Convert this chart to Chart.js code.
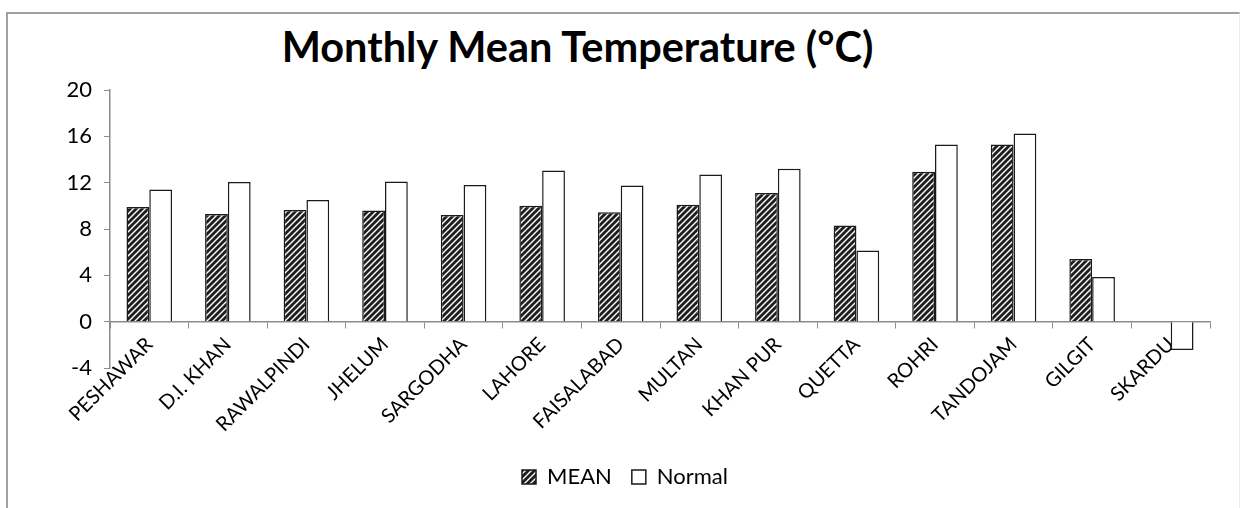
<!DOCTYPE html>
<html>
<head>
<meta charset="utf-8">
<script src="https://cdn.jsdelivr.net/npm/chart.js@4.4.1/dist/chart.umd.min.js"></script>
<style>
  html, body { margin: 0; padding: 0; background: #fff; }
  #frame {
    position: absolute; left: 6px; top: 12px; width: 1234px; height: 510px;
    border-top: 2px solid #a0a0a0; border-left: 2px solid #a0a0a0; border-right: 1px solid #ececec;
    box-sizing: border-box;
  }
  #titulo {
    position: absolute; left: 0; top: 21px; width: 1155px; text-align: center;
    font: bold 41.5px Lato, "Open Sans", sans-serif; color: #000;
  }
  #wrap { position: absolute; left: 0; top: 0; width: 1246px; height: 508px; }
</style>
</head>
<body>
<div id="frame"></div>
<div id="titulo">Monthly Mean Temperature (°C)</div>
<div id="wrap"><canvas id="chart"></canvas></div>
<script>
// dados
const estacoes = ['PESHAWAR', 'D.I. KHAN', 'RAWALPINDI', 'JHELUM', 'SARGODHA', 'LAHORE', 'FAISALABAD',
  'MULTAN', 'KHAN PUR', 'QUETTA', 'ROHRI', 'TANDOJAM', 'GILGIT', 'SKARDU'];
const mediaMensal = [9.9, 9.3, 9.65, 9.6, 9.2, 10.0, 9.45, 10.1, 11.1, 8.3, 12.95, 15.3, 5.4, null];
const normal = [11.4, 12.05, 10.5, 12.1, 11.8, 13.05, 11.75, 12.7, 13.2, 6.15, 15.3, 16.25, 3.85, -2.45];
const ticksY = [-4, 0, 4, 8, 12, 16, 20];

const corEixo = '#8c8c8c';

// padrao hachurado
function criaHachura() {
  const c = document.createElement('canvas');
  c.width = 6; c.height = 6;
  const g = c.getContext('2d');
  g.fillStyle = '#1e1e1e';
  g.fillRect(0, 0, 6, 6);
  g.strokeStyle = '#ffffff';
  g.lineWidth = 1.4;
  g.beginPath();
  g.moveTo(-1, 7); g.lineTo(7, -1);
  g.moveTo(-4, 4); g.lineTo(4, -4);
  g.moveTo(2, 10); g.lineTo(10, 2);
  g.stroke();
  return g.createPattern(c, 'repeat');
}

const data = {
  labels: estacoes,
  datasets: [{
    label: 'MEAN',
    data: mediaMensal,
    backgroundColor: criaHachura(),
    borderColor: '#1a1a1a',
    borderWidth: 1.5,
    categoryPercentage: 0.58,
    barPercentage: 1.0
  }, {
    label: 'Normal',
    data: normal,
    backgroundColor: '#ffffff',
    borderColor: '#1a1a1a',
    borderWidth: 1.5,
    categoryPercentage: 0.58,
    barPercentage: 1.0
  }]
};

const config = {
  type: 'bar',
  data: data,
  options: {
    responsive: true,
    maintainAspectRatio: false,
    animation: false,
    layout: { padding: { left: 40, right: 36, top: 90, bottom: 10 } },
    scales: {
      x: {
        position: { y: 0 },
        grid: { display: true, drawOnChartArea: false, drawTicks: true, tickLength: 6, color: corEixo, offset: true },
        border: { color: corEixo, width: 1.5 },
        ticks: {
          color: '#000', maxRotation: 45, minRotation: 45, autoSkip: false, padding: 5,
          font: { family: 'Lato', size: 20 }
        }
      },
      y: {
        min: -4, max: 20,
        afterFit: s => { s.width = 70; },
        afterBuildTicks: s => { s.ticks = ticksY.map(v => ({ value: v })); },
        grid: { display: true, drawOnChartArea: false, drawTicks: true, tickLength: 6, color: corEixo },
        border: { color: corEixo, width: 1.5 },
        ticks: { color: '#000', padding: 12, font: { family: 'Lato', size: 22 } }
      }
    },
    plugins: {
      title: { display: false },
      tooltip: { enabled: false },
      legend: {
        position: 'bottom',
        title: { display: true, text: '', padding: { top: 66, bottom: 0 }, font: { size: 10 } },
        labels: {
          color: '#000', boxWidth: 14, boxHeight: 14, padding: 20,
          font: { family: 'Lato', size: 22 }
        }
      }
    }
  }
};

const myChart = new Chart(document.getElementById('chart'), config);
</script>
</body>
</html>
